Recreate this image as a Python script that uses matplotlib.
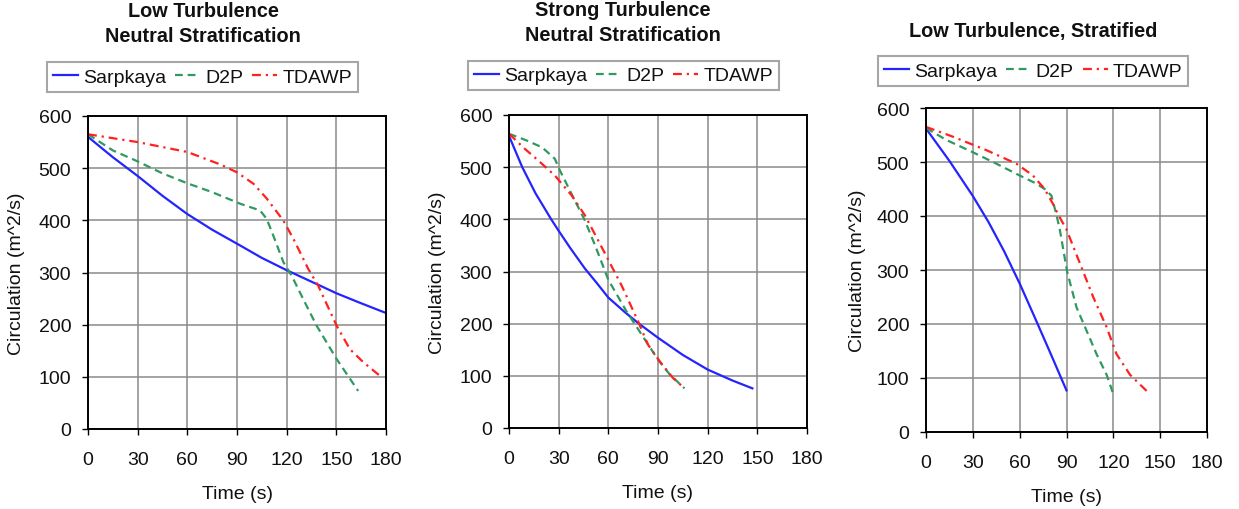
import matplotlib
matplotlib.use("Agg")
import matplotlib.pyplot as plt

plt.rcParams['font.family'] = ['Liberation Sans', 'DejaVu Sans']

# ---------------- data ----------------
titles = ["Low Turbulence\nNeutral Stratification",
          "Strong Turbulence\nNeutral Stratification",
          "Low Turbulence, Stratified"]
series_names = ["Sarpkaya", "D2P", "TDAWP"]
xticks = [0, 30, 60, 90, 120, 150, 180]
yticks = [0, 100, 200, 300, 400, 500, 600]

# Panel 1: Low turbulence, neutral stratification
p1_sarp_t = [0, 15, 30, 45, 60, 75, 91.8, 105, 119.6, 138, 150.2, 165, 179.5]
p1_sarp_v = [560, 521, 485, 447, 412, 382, 352, 328, 305, 278, 260, 241, 223]
p1_d2p_t = [0, 15, 30, 45, 60, 75, 91.8, 103.9, 107.9, 111.9, 118, 123, 130,
            138.1, 150.2, 163.2]
p1_d2p_v = [565, 534, 513, 490, 471, 454, 432, 419, 403, 371, 320, 294, 249,
            198, 134, 73]
p1_tda_t = [0, 30, 60, 80, 90, 100, 107.9, 117.9, 124, 133, 139, 150.2, 158.2,
            166.3, 176.3]
p1_tda_v = [565, 550, 531, 507, 492, 470, 442, 400, 365, 307, 275, 198, 153,
            128, 102]

# Panel 2: Strong turbulence, neutral stratification
p2_sarp_t = [0, 8, 16, 25.5, 30, 37, 46, 53, 60, 70, 78.5, 90, 105, 120, 135, 147]
p2_sarp_v = [560, 500, 450, 400, 378, 345, 305, 278, 250, 222, 200, 173, 140,
             112, 91, 76]
p2_d2p_t = [0, 10, 20, 27.7, 30.7, 38.7, 45.8, 52, 60, 70.9, 78.9, 90, 97, 106]
p2_d2p_v = [564, 552, 538, 516, 494, 443, 398, 350, 284, 224, 185, 131, 103, 76]
p2_tda_t = [0, 9.6, 17.6, 27.7, 37.8, 45.8, 53.8, 60, 67.9, 77.9, 83.9, 91, 99,
            106]
p2_tda_v = [564, 535, 513, 484, 446, 408, 360, 322, 274, 205, 160, 128, 96, 76]

# Panel 3: Low turbulence, stratified
p3_sarp_t = [0, 15, 30, 40, 50, 60, 70, 80, 90]
p3_sarp_v = [562, 502, 437, 389, 335, 275, 210, 144, 77]
p3_d2p_t = [0, 12.9, 29.3, 45, 60, 70.7, 76, 80.3, 83.5, 85.7, 90.4, 96.4,
            102.8, 109.3, 115.7, 120]
p3_d2p_v = [563, 541, 519, 497, 475, 460, 450, 438, 403, 375, 297, 231, 188,
            144, 106, 70]
p3_tda_t = [0, 17.1, 38.6, 57.8, 68.5, 76, 81.4, 84.6, 90, 98.5, 107.1, 115.7,
            122.1, 130.7, 142.4]
p3_tda_v = [565, 547, 522, 497, 475, 450, 422, 403, 375, 313, 250, 194, 144,
            106, 73]

panels = [
    [(p1_sarp_t, p1_sarp_v), (p1_d2p_t, p1_d2p_v), (p1_tda_t, p1_tda_v)],
    [(p2_sarp_t, p2_sarp_v), (p2_d2p_t, p2_d2p_v), (p2_tda_t, p2_tda_v)],
    [(p3_sarp_t, p3_sarp_v), (p3_d2p_t, p3_d2p_v), (p3_tda_t, p3_tda_v)],
]

# ---------------- layout / style ----------------
colors = ["#2424ff", "#2f9a5f", "#ff2020"]
styles = ["-", (0, (3.5, 2.2)), (0, (4, 2.2, 1, 2.2))]

W, H = 1239, 510
axes_px = [(88, 117, 386, 430), (509, 116, 807, 429), (926, 109, 1207, 433)]
title_pos = [(203, 24), (623, 23), (1033, 31)]
legend_pos = [(202.5, 78), (623.5, 76.5), (1033, 72)]
ylabel_x = [17, 438, 857]

fig = plt.figure(figsize=(W / 100, H / 100), dpi=100)
fs = 14
for i, (l, t, r, b) in enumerate(axes_px):
    ax = fig.add_axes([l / W, 1 - b / H, (r - l) / W, (b - t) / H])
    handles = []
    for j, (tt, vv) in enumerate(panels[i]):
        h, = ax.plot(tt, vv, color=colors[j], linestyle=styles[j], lw=1.6,
                     label=series_names[j])
        handles.append(h)
    ax.set_xlim(0, 180)
    ax.set_ylim(0, 600)
    ax.set_xticks(xticks)
    ax.set_yticks(yticks)
    ax.grid(True, color="#8a8a8a", lw=1.1)
    ax.set_axisbelow(True)
    for s in ax.spines.values():
        s.set_color("black")
        s.set_linewidth(1.4)
    ax.tick_params(axis="both", labelsize=fs, direction="out", length=4,
                   width=1.0, color="black", labelcolor="#111111")
    ax.tick_params(axis="x", pad=12)
    ax.tick_params(axis="y", pad=8)
    ax.set_xlabel("Time (s)", fontsize=fs, labelpad=12, color="#111111")
    ax.set_ylabel("Circulation (m^2/s)", fontsize=fs, color="#111111")
    tx, ty = title_pos[i]
    fig.text(tx / W, 1 - ty / H, titles[i], ha="center", va="center",
             fontsize=14.3, fontweight="bold", linespacing=1.35, color="#111111")
    lx, ly = legend_pos[i]
    leg = ax.legend(handles=handles, loc="center",
                    bbox_to_anchor=(lx / W, 1 - ly / H),
                    bbox_transform=fig.transFigure, ncol=3, fontsize=fs,
                    frameon=True, fancybox=False, handlelength=1.3,
                    handletextpad=0.25, columnspacing=0.45, borderpad=0.3,
                    borderaxespad=0)
    leg.get_frame().set_edgecolor("#909090")
    leg.get_frame().set_linewidth(1.5)
    for txt in leg.get_texts():
        txt.set_color("#111111")

# place y labels at absolute x positions
fig.canvas.draw()
for i, ax in enumerate(fig.axes):
    inv = ax.transAxes.inverted()
    x_ax = inv.transform((ylabel_x[i], 0))[0]
    ax.yaxis.set_label_coords(x_ax, 0.5)
    ax.yaxis.label.set_va("center")

fig.savefig("out.png", dpi=100)
